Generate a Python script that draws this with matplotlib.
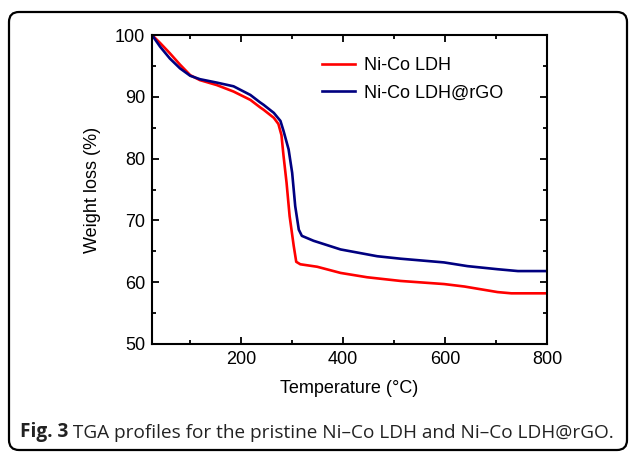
import matplotlib
matplotlib.use('agg')
import matplotlib.pyplot as plt
import matplotlib.patches as mpatches
from matplotlib.ticker import MultipleLocator

# TGA data: temperature (°C) vs remaining weight (%)
temp_ldh = [25, 41, 60, 80, 100, 119, 152, 185, 218, 237, 244, 264, 273, 279, 283, 289, 295, 303, 308,
            316, 349, 395, 447, 513, 598, 638, 703, 730, 798]
weight_ldh = [100, 98.7, 97.05, 95.2, 93.5, 92.7, 91.9, 90.85, 89.5, 88.3, 87.9, 86.6, 85.6, 83.8, 80.5, 76.1,
              70.7, 65.9, 63.3, 62.9, 62.5, 61.5, 60.8, 60.2, 59.7, 59.3, 58.4, 58.2, 58.2]

temp_rgo = [25, 41, 60, 80, 100, 119, 152, 185, 218, 237, 244, 264, 277, 283, 293, 300, 306, 313,
            319, 342, 395, 467, 513, 598, 644, 703, 743, 798]
weight_rgo = [100, 98.1, 96.2, 94.6, 93.4, 92.85, 92.3, 91.7, 90.3, 89.1, 88.7, 87.4, 86.1, 84.5, 81.5, 77.7,
              72.3, 68.5, 67.5, 66.7, 65.3, 64.2, 63.8, 63.2, 62.6, 62.1, 61.8, 61.8]

labels = ['Ni-Co LDH', 'Ni-Co LDH@rGO']

plt.rcParams['font.family'] = ['Liberation Sans', 'DejaVu Sans']

fig = plt.figure(figsize=(6.29, 4.53), dpi=100)
ax = fig.add_axes([152 / 629, 1 - 344 / 453, 395 / 629, 309 / 453])

ax.plot(temp_ldh, weight_ldh, color='#ff0000', lw=1.9, label=labels[0], solid_joinstyle='round')
ax.plot(temp_rgo, weight_rgo, color='#000080', lw=1.9, label=labels[1], solid_joinstyle='round')

ax.set_xlim(25, 800)
ax.set_ylim(50, 100)
ax.xaxis.set_major_locator(MultipleLocator(200))
ax.xaxis.set_minor_locator(MultipleLocator(100))
ax.yaxis.set_major_locator(MultipleLocator(10))
ax.yaxis.set_minor_locator(MultipleLocator(5))
ax.tick_params(which='both', direction='in', top=True, right=True, width=1.3, labelsize=13)
ax.tick_params(which='major', length=5, pad=5)
ax.tick_params(which='minor', length=3)
for s in ax.spines.values():
    s.set_linewidth(1.5)

ax.set_xlabel('Temperature (°C)', fontsize=13, labelpad=9)
ax.set_ylabel('Weight loss (%)', fontsize=13, labelpad=10)

ax.legend(loc='upper left', bbox_to_anchor=(0.39, 0.98), frameon=False, fontsize=13,
          handlelength=1.8, handletextpad=0.5, labelspacing=0.55)

# caption and rounded frame
t1 = fig.text(20 / 629, 1 - 437 / 453, 'Fig. 3', fontsize=13.7, fontweight='bold',
              family=['Open Sans', 'DejaVu Sans'], color='#222222')
ax.annotate(' TGA profiles for the pristine Ni–Co LDH and Ni–Co LDH@rGO.', xy=(1, 0),
            xycoords=t1, va='bottom', ha='left', fontsize=13.7,
            family=['Open Sans', 'DejaVu Sans'], color='#222222', annotation_clip=False)

frame = mpatches.FancyBboxPatch((9, 3), 618, 438, boxstyle='round,pad=0,rounding_size=10',
                                transform=None, fill=False, lw=1.6, edgecolor='black')
fig.patches.append(frame)

fig.savefig('out.png', dpi=100)
